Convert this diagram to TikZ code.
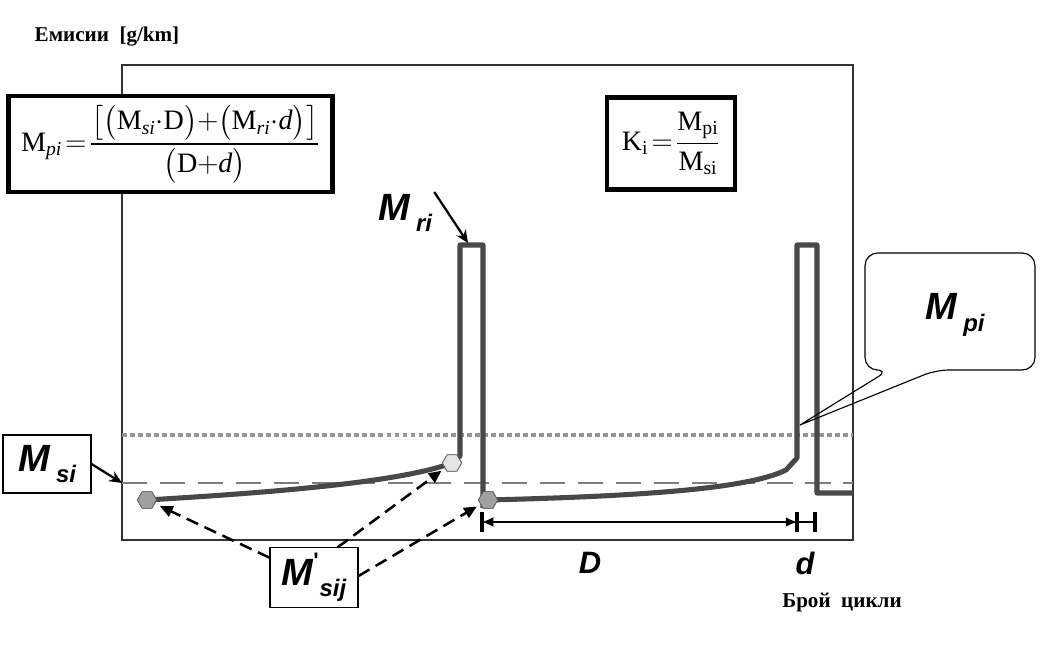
\documentclass[tikz,border=0pt]{standalone}
\usepackage{amsmath}
\usepackage{fontspec}
\setmainfont{Liberation Serif}
\newfontfamily\lsans{Liberation Sans}
\usetikzlibrary{arrows.meta,shapes.geometric,positioning,calc}
\definecolor{curvegray}{RGB}{72,72,72}
\definecolor{dotgray}{RGB}{150,150,150}
\definecolor{dashgray}{RGB}{125,125,125}
\definecolor{markgray}{RGB}{160,160,160}
\definecolor{marklight}{RGB}{228,228,228}

% big bold italic symbol with a lowered index
\newcommand{\symlab}[2]{{\lsans\bfseries\itshape\fontsize{27}{30}\selectfont #1\,\raisebox{-0.3em}{\fontsize{17}{18}\selectfont #2}}}

\begin{document}
\begin{tikzpicture}[
    x=0.025cm, y=-0.025cm,
    every node/.style={inner sep=0pt},
    frame/.style={draw=black!80, line width=0.9pt},
    formbox/.style={draw, line width=3pt, fill=white,
                    font=\fontsize{20}{24}\selectfont},
    labbox/.style={draw, line width=0.8pt, fill=white},
    profile/.style={draw=curvegray, line width=3.6pt, line join=round},
    marker/.style={regular polygon, regular polygon sides=6,
                   draw=black!60, line width=0.6pt, minimum size=0.48cm},
    pointer/.style={-{Stealth[length=9pt,width=8pt]}, line width=1.6pt},
    dasharrow/.style={-{Triangle[length=9pt,width=8pt]},
                      dash pattern=on 9pt off 5pt, line width=1.8pt},
    dimline/.style={line width=0.9pt},
    axislab/.style={font=\bfseries\fontsize{15}{18}\selectfont}
]
\useasboundingbox (0,0) rectangle (1042,656);

% Plot frame and the two mean levels
\coordinate (fNW) at (122,65);
\coordinate (fSE) at (853,540);
\draw[frame] (fNW) rectangle (fSE);

\coordinate (dotL) at (122,435);
\coordinate (dotR) at (853,435);
\coordinate (dashL) at (122,483);
\coordinate (dashR) at (853,483);
\draw[dotgray, line width=3pt, dash pattern=on 3.5pt off 2.2pt] (dotL) -- (dotR);
\draw[dashgray, line width=1.8pt, dash pattern=on 18pt off 9pt] (dashL) -- (dashR);

% Measured points
\node[marker, fill=markgray]  (m1) at (147,500) {};
\node[marker, fill=marklight] (m2) at (452,463) {};
\node[marker, fill=markgray]  (m3) at (488,500) {};

% Emission profile with the two regeneration peaks
\coordinate (pkA1) at (460,456);
\coordinate (pkA2) at (460,245);
\coordinate (pkA3) at (483,245);
\coordinate (pkA4) at (483,508);
\coordinate (pkB0) at (786,470);
\coordinate (pkB1) at (797,458);
\coordinate (pkB2) at (797,245);
\coordinate (pkB3) at (817,245);
\coordinate (pkB4) at (817,493);
\coordinate (pkB5) at (853,493);
\draw[profile] (m1.center) .. controls (280,492) and (400,482) .. (m2.center)
               -- (pkA1) -- (pkA2) -- (pkA3) -- (pkA4);
\draw[profile] (m3.center) .. controls (650,496) and (750,488) .. (pkB0)
               -- (pkB1) -- (pkB2) -- (pkB3) -- (pkB4) -- (pkB5);
\node[marker, fill=markgray]  at (m1) {};
\node[marker, fill=marklight] at (m2) {};
\node[marker, fill=markgray]  at (m3) {};

% Formula boxes
\node[formbox, minimum width=8.1cm, minimum height=2.4cm] (form) at (170.5,144)
  {$\mathrm{M}_{\mathit{pi}}\!=\!\dfrac{\bigl[\bigl(\mathrm{M}_{\mathit{si}}{\cdot}\mathrm{D}\bigr){+}\bigl(\mathrm{M}_{\mathit{ri}}{\cdot}\mathit{d}\bigr)\bigr]}{\bigl(\mathrm{D}{+}\mathit{d}\bigr)}$};
\node[formbox, minimum width=3.2cm, minimum height=2.3cm] (kbox) at (671,143.5)
  {$\mathrm{K}_{\mathrm{i}}\!=\!\dfrac{\mathrm{M}_{\mathrm{pi}}}{\mathrm{M}_{\mathrm{si}}}$};

% Symbol labels
\node (mri) at (405,213) {\symlab{M}{ri}};
\coordinate (mriend) at (468,243);
\draw[pointer] (mri.north east) ++(2,-2) -- (mriend);

\node[labbox, minimum width=2.2cm, minimum height=1.45cm] (msi) at (47,464) {\symlab{M}{si}};
\draw[pointer] (msi.east) -- (dashL);

\node[labbox, minimum width=2.2cm, minimum height=1.48cm] (msij) at (314,577.5)
  {\symlab{M\rlap{\raisebox{0.45em}{\fontsize{16}{16}\selectfont\upshape\bfseries '}}}{sij}};
\draw[dasharrow, shorten >=4pt] (msij.156) -- (m1);
\draw[dasharrow, shorten >=3pt] (msij.52) -- (m2);
\draw[dasharrow, shorten >=3pt] (msij.2) -- (m3);

% Callout
\coordinate (pitip) at (800,425);
\node (mpi) at (955,315) {\symlab{M}{pi}};
\draw[line width=0.8pt, rounded corners=9pt] (pitip) -- (936,370) -- (1035,370)
  -- (1035,253) -- (865,253) -- (865,370) -- (889,370) [sharp corners] -- (pitip);

% Cycle spacing
\coordinate (dL) at (482,522);
\coordinate (dR) at (797,522);
\coordinate (dE) at (815,522);
\draw[dimline, {Latex[length=8pt,width=7pt]}-{Latex[length=8pt,width=7pt]}] (dL) -- (dR);
\draw[dimline] (dR) -- (dE);
\foreach \p in {dL,dR,dE}
  \draw[line width=2.4pt] ($(\p)+(0,-10)$) -- ($(\p)+(0,10)$);
\node[font=\lsans\bfseries\itshape\fontsize{22}{24}\selectfont] (dlab) at (590,563) {D};
\node[font=\lsans\bfseries\itshape\fontsize{22}{24}\selectfont] (smalld) at (805,563) {d};

% Axis titles
\node[axislab] (ylab) at (107,37) {Емисии\ \ [g/km]};
\node[axislab] (xlab) at (842,602) {Брой\ \ цикли};

\end{tikzpicture}
\end{document}
